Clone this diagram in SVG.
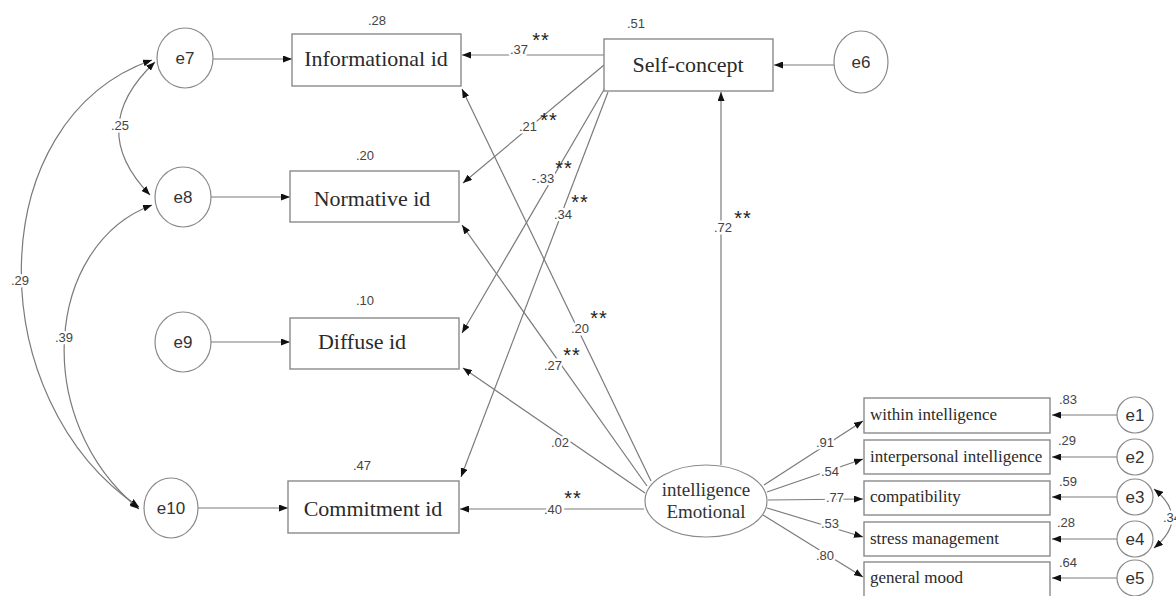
<svg xmlns="http://www.w3.org/2000/svg" width="1176" height="596" viewBox="0 0 1176 596">
<defs>
<marker id="ah" viewBox="0 0 9 7" refX="9" refY="3.5" markerWidth="9" markerHeight="7" markerUnits="userSpaceOnUse" orient="auto-start-reverse">
<path d="M0,0 L9,3.5 L0,7 z" fill="#111"/>
</marker>
</defs>
<style>
.ln{fill:none;stroke:#7a7a7a;stroke-width:1.2}
.bx{fill:#fff;stroke:#8a8a8a;stroke-width:1.4}
.nd{fill:#fff;stroke:#8a8a8a;stroke-width:1.2}
.big{font-family:"Liberation Serif","Times New Roman",serif;font-size:22px;fill:#2a2a2a;text-anchor:middle}
.ind{font-family:"Liberation Serif","Times New Roman",serif;font-size:17px;fill:#2a2a2a}
.emo{font-family:"Liberation Serif","Times New Roman",serif;font-size:19px;fill:#333;text-anchor:middle}
.err{font-family:"Liberation Sans",Arial,sans-serif;font-size:17px;fill:#333;text-anchor:middle}
.num{font-family:"Liberation Sans",Arial,sans-serif;font-size:13px;fill:#444;text-anchor:middle;stroke:#fff;stroke-width:5;paint-order:stroke;stroke-linejoin:round}
.st{font-family:"Liberation Sans",Arial,sans-serif;font-size:20px;fill:#222;text-anchor:middle;letter-spacing:1px}
</style>
<rect width="1176" height="596" fill="#fff"/>

<g id="connectors">
<line class="ln" x1="213" y1="59" x2="292" y2="59" marker-end="url(#ah)"/>
<line class="ln" x1="211" y1="197" x2="290" y2="197" marker-end="url(#ah)"/>
<line class="ln" x1="211" y1="342" x2="290" y2="342" marker-end="url(#ah)"/>
<line class="ln" x1="198" y1="508" x2="288" y2="508" marker-end="url(#ah)"/>
<line class="ln" x1="834" y1="65" x2="774" y2="65" marker-end="url(#ah)"/>
<path class="ln" d="M155,62 Q85,128 150,195" marker-start="url(#ah)" marker-end="url(#ah)"/>
<path class="ln" d="M152,60 C-20,120 -20,400 139,507" marker-start="url(#ah)" marker-end="url(#ah)"/>
<path class="ln" d="M152,205 C45,245 30,420 139,509" marker-start="url(#ah)" marker-end="url(#ah)"/>
<path class="ln" d="M1154,489 Q1190,518 1154,548" marker-start="url(#ah)" marker-end="url(#ah)"/>
<line class="ln" x1="604" y1="55" x2="462" y2="55" marker-end="url(#ah)"/>
<line class="ln" x1="604" y1="65" x2="463" y2="183" marker-end="url(#ah)"/>
<line class="ln" x1="605" y1="88" x2="462" y2="333" marker-end="url(#ah)"/>
<line class="ln" x1="608" y1="92" x2="461" y2="477" marker-end="url(#ah)"/>
<line class="ln" x1="721" y1="465" x2="721" y2="92" marker-end="url(#ah)"/>
<line class="ln" x1="651" y1="481" x2="462" y2="89" marker-end="url(#ah)"/>
<line class="ln" x1="647" y1="486" x2="462" y2="225" marker-end="url(#ah)"/>
<line class="ln" x1="645" y1="493" x2="463" y2="368" marker-end="url(#ah)"/>
<line class="ln" x1="644" y1="509" x2="460" y2="509" marker-end="url(#ah)"/>
<line class="ln" x1="764" y1="485" x2="863" y2="421" marker-end="url(#ah)"/>
<line class="ln" x1="767" y1="492" x2="863" y2="459" marker-end="url(#ah)"/>
<line class="ln" x1="768" y1="500" x2="863" y2="499" marker-end="url(#ah)"/>
<line class="ln" x1="767" y1="508" x2="863" y2="537" marker-end="url(#ah)"/>
<line class="ln" x1="763" y1="515" x2="863" y2="577" marker-end="url(#ah)"/>
<line class="ln" x1="1117" y1="415" x2="1052" y2="415" marker-end="url(#ah)"/>
<line class="ln" x1="1117" y1="457" x2="1052" y2="457" marker-end="url(#ah)"/>
<line class="ln" x1="1117" y1="497" x2="1052" y2="497" marker-end="url(#ah)"/>
<line class="ln" x1="1117" y1="539" x2="1052" y2="539" marker-end="url(#ah)"/>
<line class="ln" x1="1117" y1="578" x2="1052" y2="578" marker-end="url(#ah)"/>
<text class="num" x="120" y="130">.25</text>
<text class="num" x="20" y="285">.29</text>
<text class="num" x="64" y="342">.39</text>
<text class="num" x="519" y="54">.37</text><text class="st" x="541" y="47">**</text>
<text class="num" x="528" y="131">.21</text><text class="st" x="549" y="127">**</text>
<text class="num" x="543" y="183">-.33</text><text class="st" x="564" y="175">**</text>
<text class="num" x="563" y="219">.34</text><text class="st" x="580" y="209">**</text>
<text class="num" x="723" y="232">.72</text><text class="st" x="743" y="225">**</text>
<text class="num" x="580" y="333">.20</text><text class="st" x="599" y="325">**</text>
<text class="num" x="553" y="370">.27</text><text class="st" x="572" y="362">**</text>
<text class="num" x="560" y="447">.02</text>
<text class="num" x="553" y="514">.40</text><text class="st" x="573" y="505">**</text>
<text class="num" x="825" y="447">.91</text>
<text class="num" x="830" y="476">.54</text>
<text class="num" x="835" y="502">.77</text>
<text class="num" x="830" y="528">.53</text>
<text class="num" x="825" y="560">.80</text>
<text class="num" x="1172" y="522">.34</text>
</g>

<g id="e7"><ellipse class="nd" cx="185" cy="58" rx="28" ry="30"/><text class="err" x="185" y="64">e7</text></g>
<g id="e8"><ellipse class="nd" cx="183" cy="197" rx="28" ry="30"/><text class="err" x="183" y="203">e8</text></g>
<g id="e9"><ellipse class="nd" cx="183" cy="342" rx="28" ry="30"/><text class="err" x="183" y="348">e9</text></g>
<g id="e10"><ellipse class="nd" cx="171" cy="508" rx="27" ry="30"/><text class="err" x="171" y="514">e10</text></g>
<g id="e6"><ellipse class="nd" cx="861" cy="62" rx="27" ry="31"/><text class="err" x="861" y="68">e6</text></g>

<g id="informational"><rect class="bx" x="292" y="34" width="169" height="52"/><text class="big" x="376" y="66">Informational id</text><text class="num" x="377" y="25">.28</text></g>
<g id="normative"><rect class="bx" x="290" y="171" width="169" height="51"/><text class="big" x="372" y="206">Normative id</text><text class="num" x="365" y="160">.20</text></g>
<g id="diffuse"><rect class="bx" x="290" y="318" width="169" height="51"/><text class="big" x="362" y="349">Diffuse id</text><text class="num" x="365" y="305">.10</text></g>
<g id="commitment"><rect class="bx" x="288" y="481" width="171" height="52"/><text class="big" x="373" y="516">Commitment id</text><text class="num" x="362" y="470">.47</text></g>
<g id="selfconcept"><rect class="bx" x="604" y="39" width="169" height="52"/><text class="big" x="688" y="72">Self-concept</text><text class="num" x="636" y="28">.51</text></g>

<g id="emotional"><ellipse class="nd" cx="706" cy="501" rx="61" ry="36"/><text class="emo" x="706" y="496">intelligence</text><text class="emo" x="706" y="518">Emotional</text></g>

<g id="within"><rect class="bx" x="864" y="398" width="186" height="35"/><text class="ind" x="870" y="420">within intelligence</text><text class="num" x="1068" y="404">.83</text></g>
<g id="interpersonal"><rect class="bx" x="864" y="440" width="186" height="34"/><text class="ind" x="870" y="462">interpersonal intelligence</text><text class="num" x="1067" y="445">.29</text></g>
<g id="compatibility"><rect class="bx" x="864" y="481" width="186" height="34"/><text class="ind" x="870" y="502">compatibility</text><text class="num" x="1068" y="486">.59</text></g>
<g id="stress"><rect class="bx" x="864" y="522" width="186" height="34"/><text class="ind" x="870" y="544">stress management</text><text class="num" x="1066" y="527">.28</text></g>
<g id="mood"><rect class="bx" x="864" y="562" width="186" height="36"/><text class="ind" x="870" y="583">general mood</text><text class="num" x="1068" y="567">.64</text></g>

<g id="e1"><circle class="nd" cx="1135" cy="415" r="18"/><text class="err" x="1135" y="421">e1</text></g>
<g id="e2"><circle class="nd" cx="1135" cy="457" r="18"/><text class="err" x="1135" y="463">e2</text></g>
<g id="e3"><circle class="nd" cx="1135" cy="497" r="18"/><text class="err" x="1135" y="503">e3</text></g>
<g id="e4"><circle class="nd" cx="1135" cy="539" r="18"/><text class="err" x="1135" y="545">e4</text></g>
<g id="e5"><circle class="nd" cx="1135" cy="578" r="18"/><text class="err" x="1135" y="584">e5</text></g>
</svg>
